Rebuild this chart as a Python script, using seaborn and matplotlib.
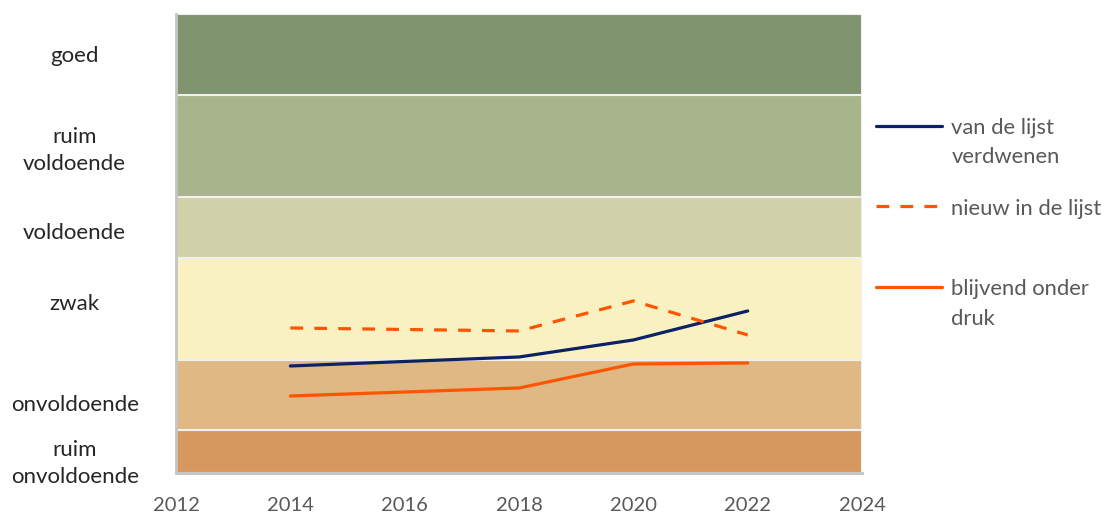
import numpy as np
import pandas as pd
import matplotlib.pyplot as plt
import seaborn as sns

# band edges (bottom to top) and their names / colours
band_edges = [0, 4.3, 11.3, 21.5, 27.6, 37.8, 45.9]
band_names = ['ruim\nonvoldoende', 'onvoldoende', 'zwak', 'voldoende', 'ruim\nvoldoende', 'goed']
band_colors = ['#d6985f', '#e0b883', '#faf1c3', '#d0d1a8', '#a8b48b', '#7f936f']
label_pos = [1.5, 7.0, 17.1, 24.2, 32.8, 41.9]

years = [2014, 2018, 2020, 2022]
verdwenen = [10.7, 11.6, 13.3, 16.2]
nieuw = [14.5, 14.2, 17.2, 13.8]
blijvend = [7.7, 8.5, 10.9, 11.0]

series_names = ['van de lijst\nverdwenen', 'nieuw in de lijst\n', 'blijvend onder\ndruk']

data = pd.DataFrame({
    'jaar': years * 3,
    'waarde': verdwenen + nieuw + blijvend,
    'reeks': [series_names[0]] * 4 + [series_names[1]] * 4 + [series_names[2]] * 4,
})

sns.set_style('white')
plt.rcParams['font.family'] = ['Lato', 'DejaVu Sans']

fig = plt.figure(figsize=(11.1, 5.17), dpi=100)
ax = fig.add_axes([0.1586, 0.0851, 0.618, 0.888])

for lo, hi, c in zip(band_edges[:-1], band_edges[1:], band_colors):
    ax.axhspan(lo, hi, facecolor=c, edgecolor='#f0f0f0', linewidth=1.5, zorder=0)

sns.lineplot(data=data, x='jaar', y='waarde', hue='reeks', style='reeks',
             palette=['#0b2265', '#ff5500', '#ff5500'],
             dashes={series_names[0]: '', series_names[1]: (4, 3.5), series_names[2]: ''},
             linewidth=2.3, ax=ax, legend=False, zorder=3)

ax.set_xlim(2012, 2024)
ax.set_ylim(band_edges[0], band_edges[-1])
ax.set_xticks(range(2012, 2025, 2))
ax.set_yticks(label_pos, band_names)
ax.set_xlabel('')
ax.set_ylabel('')
ax.tick_params(axis='x', length=0, pad=17, labelsize=14.5, labelcolor='#595959')
ax.tick_params(axis='y', length=0, pad=73, labelsize=16, labelcolor='#262626')
for t in ax.get_yticklabels():
    t.set_ha('center')
    t.set_linespacing(1.45)

for s in ['top', 'right']:
    ax.spines[s].set_visible(False)
for s in ['left', 'bottom']:
    ax.spines[s].set_color('#c4c4c4')
    ax.spines[s].set_linewidth(2)

handles = ax.get_lines()[:3]
leg = fig.legend(handles, series_names, loc='upper left', bbox_to_anchor=(0.789, 0.772),
                 frameon=False, fontsize=15.8, handlelength=3.0, handletextpad=0.45,
                 borderpad=0, borderaxespad=0, labelspacing=1.42, labelcolor='#595959')
for t in leg.get_texts():
    t.set_linespacing(1.6)
for col in leg._legend_handle_box.get_children():
    for row in col.get_children():
        row.align = 'top'

fig.savefig('out.png', dpi=100)
